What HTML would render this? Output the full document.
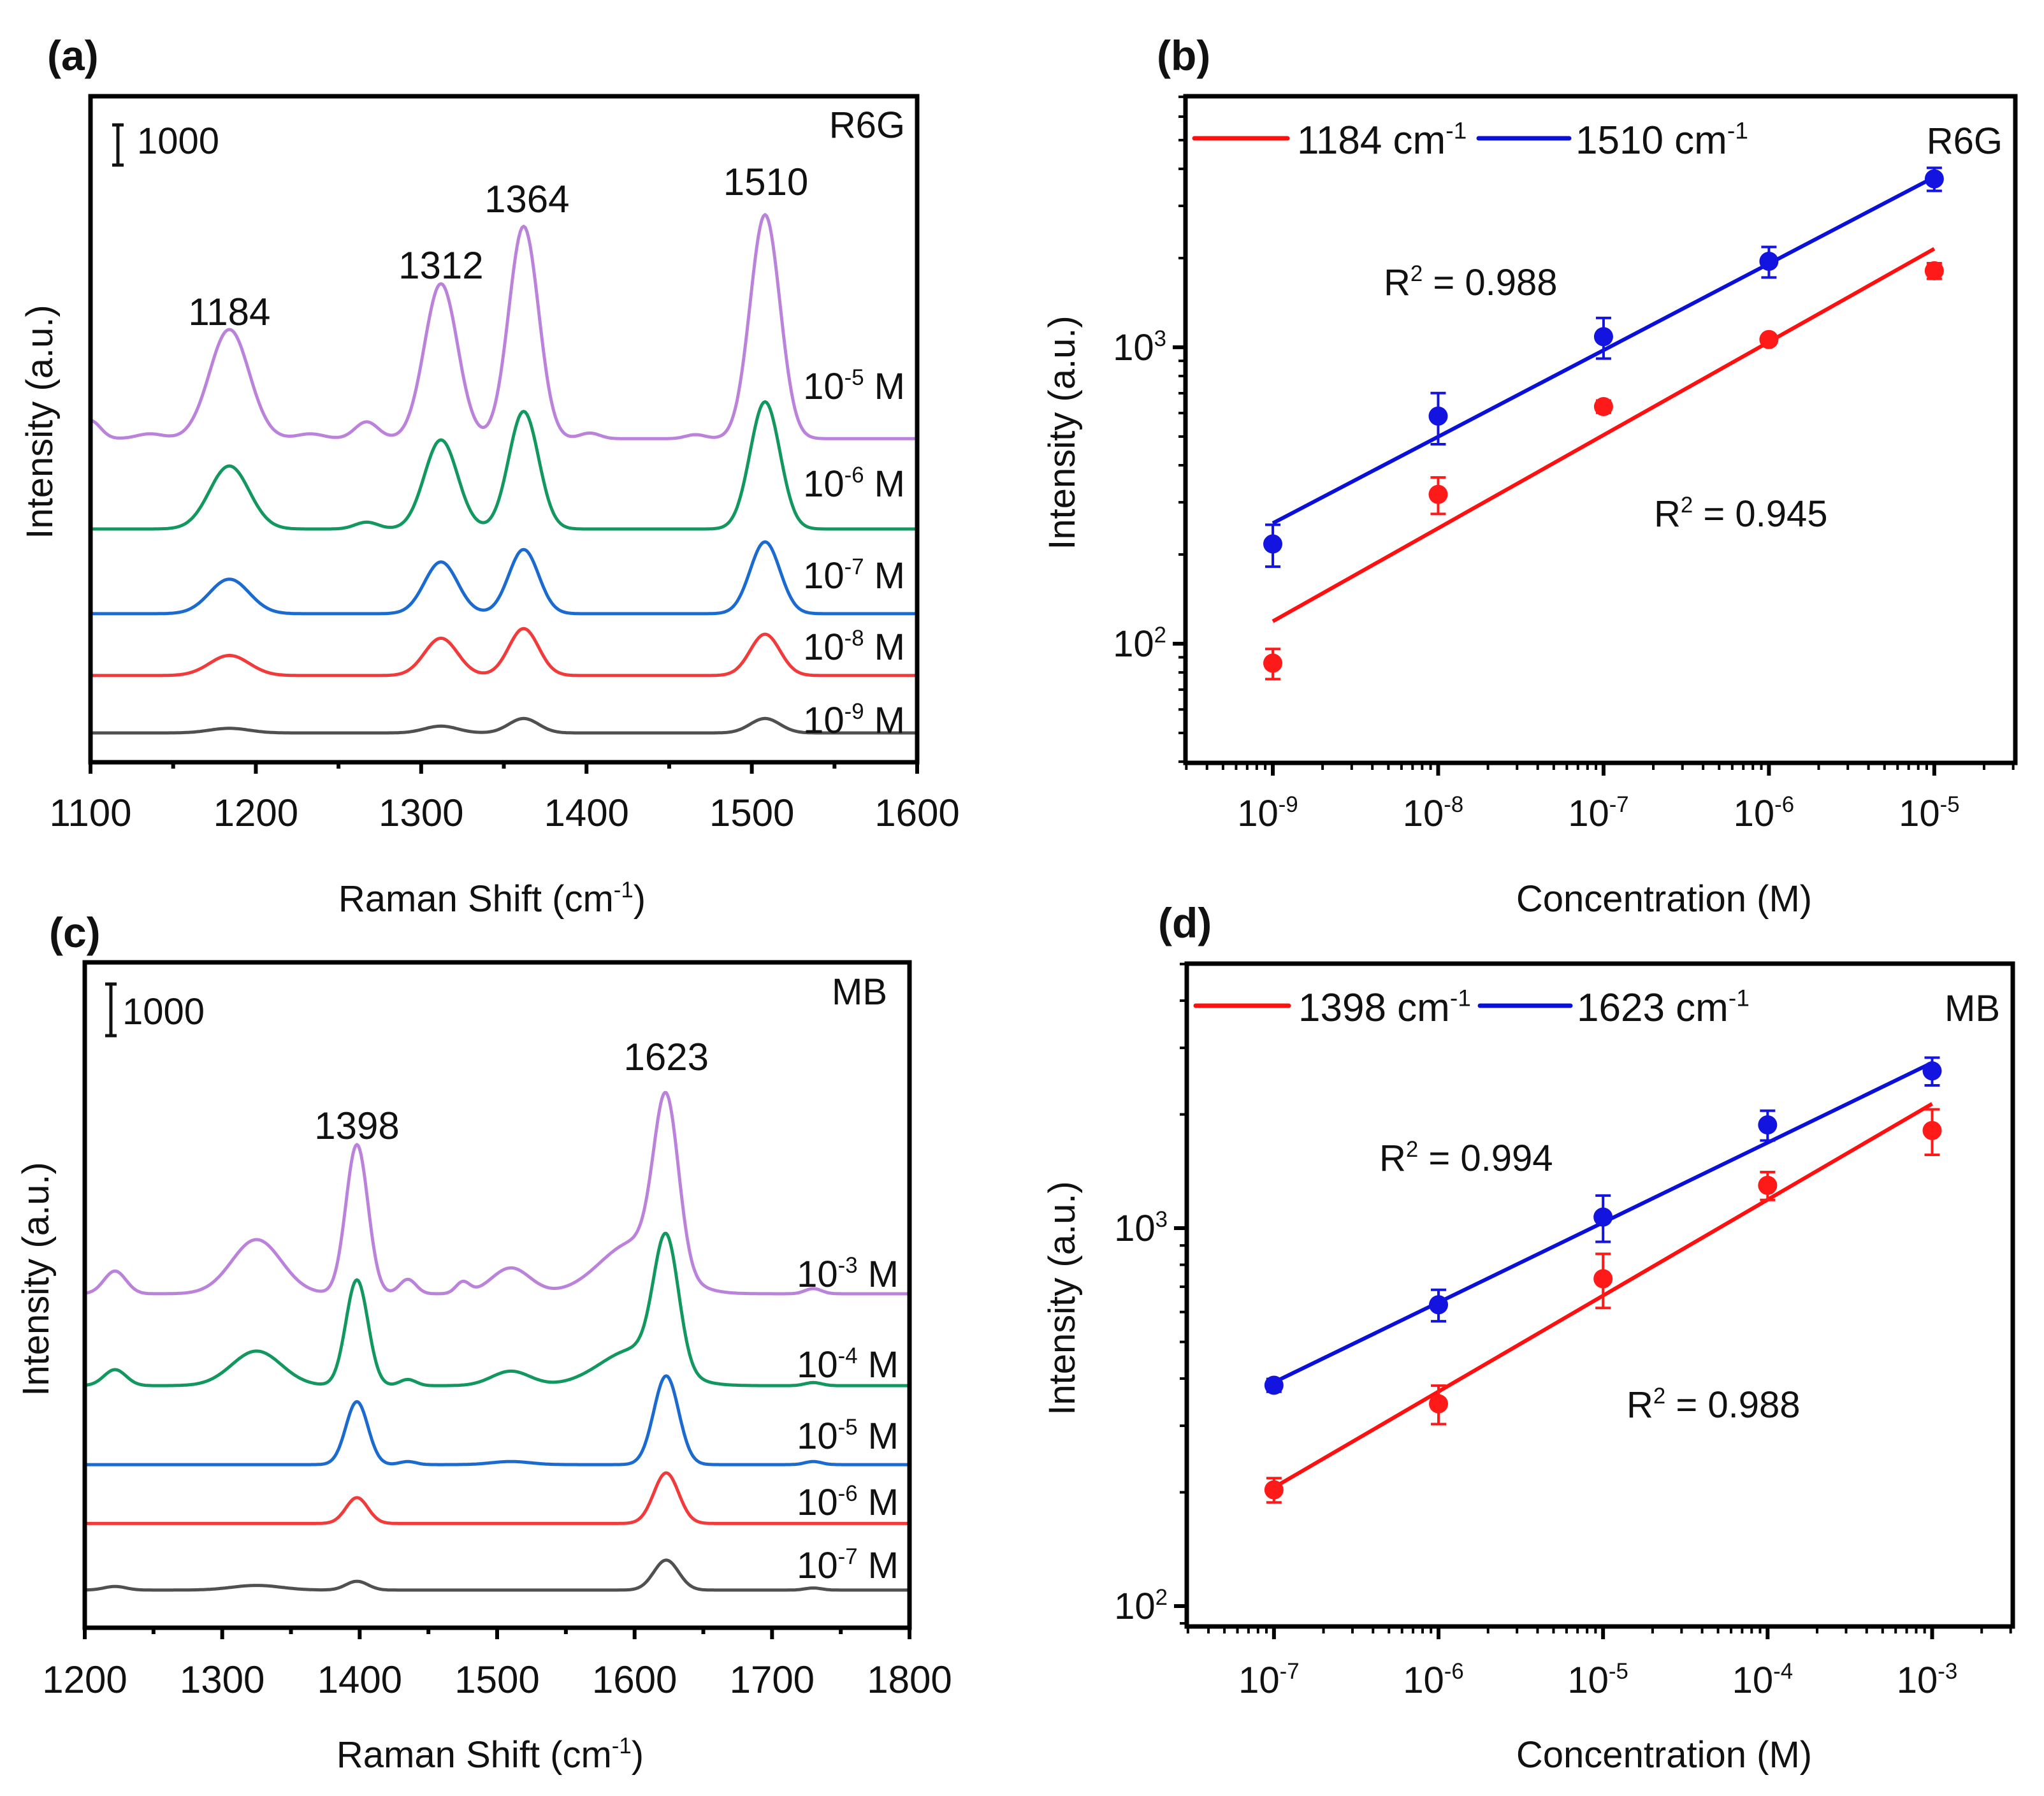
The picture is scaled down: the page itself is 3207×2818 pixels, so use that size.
<!DOCTYPE html>
<html><head><meta charset="utf-8"><style>
html,body{margin:0;padding:0;background:#fff}
svg{display:block;font-family:"Liberation Sans",Arial,sans-serif}
</style></head><body>
<svg id="fig" width="3207" height="2818" viewBox="0 0 3207 2818" xmlns="http://www.w3.org/2000/svg"></svg>
<script>
// ---------- Panel (a) data : R6G spectra ----------
const aPeakCenters = [1100, 1136, 1184, 1233, 1267, 1312, 1362, 1402, 1466, 1508];
const aPeakWidths  = [6, 8, 12, 8, 7, 10, 9, 6, 6, 9];
const aLabels = ["-9", "-8", "-7", "-6", "-5"];
const aBaselines = [730, 2160, 3700, 5810, 8060];
const aHeights = [
  [0, 0, 115, 0, 0, 170, 360, 0, 0, 360],
  [0, 0, 500, 0, 0, 930, 1170, 0, 0, 1030],
  [0, 0, 860, 0, 0, 1290, 1600, 0, 0, 1790],
  [0, 0, 1570, 0, 170, 2220, 2930, 0, 0, 3170],
  [450, 120, 2720, 120, 420, 3860, 5290, 140, 100, 5580]
];
const aPeakTicks = [1184, 1312, 1364, 1510];
// ---------- Panel (b) data ----------
const bConc = [-9, -8, -7, -6, -5];
const bRed = [86, 319, 631, 1062, 1812];
const bRedErr = [10, 45, 30, 30, 110];
const bBlue = [217, 586, 1086, 1950, 3700];
const bBlueErr = [35, 115, 170, 230, 330];
const bRedFit = [119, 2150];
const bBlueFit = [255, 3750];
// ---------- Panel (c) data : MB spectra ----------
const cPeakCenters = [1222, 1325, 1398, 1435, 1475, 1510, 1600, 1623, 1730];
const cPeakWidths  = [8, 18, 8, 6, 5, 14, 25, 9, 6];
const cLabels = ["-7", "-6", "-5", "-4", "-3"];
const cBaselines = [730, 2020, 3160, 4690, 6470];
const cHeights = [
  [70, 90, 170, 0, 0, 0, 0, 580, 40],
  [0, 0, 500, 0, 0, 0, 0, 980, 0],
  [0, 0, 1220, 60, 0, 60, 0, 1720, 60],
  [310, 670, 2050, 120, 0, 280, 700, 2490, 60],
  [440, 1050, 2890, 280, 220, 500, 1000, 3240, 100]
];
// ---------- Panel (d) data ----------
const dConc = [-7, -6, -5, -4, -3];
const dRed = [203, 343, 735, 1298, 1813];
const dRedErr = [15, 40, 120, 110, 250];
const dBlue = [384, 627, 1070, 1876, 2607];
const dBlueErr = [15, 60, 150, 170, 220];
const dRedFit = [206, 2134];
const dBlueFit = [391, 2740];

const NS = "http://www.w3.org/2000/svg";
const svg = document.getElementById('fig');
function el(tag, attrs, parent){
  const e = document.createElementNS(NS, tag);
  for (const k in attrs) e.setAttribute(k, attrs[k]);
  (parent || svg).appendChild(e);
  return e;
}
function txt(x, y, s, size, anchor, parent, weight){
  const t = el('text', {x:x, y:y, 'font-size':size, 'text-anchor':anchor||'start', fill:'#111', 'font-weight':weight||'normal'}, parent);
  t.textContent = s;
  return t;
}
function supTxt(x, y, base, sup, after, size, anchor, parent){
  const t = el('text', {x:x, y:y, 'font-size':size, 'text-anchor':anchor||'start', fill:'#111'}, parent);
  const a = document.createElementNS(NS,'tspan'); a.textContent = base; t.appendChild(a);
  const b = document.createElementNS(NS,'tspan'); b.setAttribute('dy', -size*0.38); b.setAttribute('font-size', size*0.6); b.textContent = sup; t.appendChild(b);
  if (after){ const c = document.createElementNS(NS,'tspan'); c.setAttribute('dy', size*0.38); c.textContent = after; t.appendChild(c); }
  return t;
}
const specColors = ['#505050', '#f23a3a', '#1a6ad0', '#12985f', '#bb82dc'];

function spectrumPanel(opt){
  const g = el('g', {});
  
  
  const X = v => opt.x0 + (v - opt.xmin) / (opt.xmax - opt.xmin) * (opt.x1 - opt.x0);
  const Y = v => opt.y1 - v / opt.ymax * (opt.y1 - opt.y0);
  for (let s = 0; s < opt.heights.length; s++){
    let d = '';
    for (let x = opt.xmin; x <= opt.xmax; x += 1){
      let v = opt.baselines[s];
      for (let p = 0; p < opt.centers.length; p++){
        const h = opt.heights[s][p];
        if (h) v += h * Math.exp(-Math.pow(x - opt.centers[p], 2) / (2 * opt.widths[p] * opt.widths[p]));
      }
      d += (x === opt.xmin ? 'M' : 'L') + X(x).toFixed(1) + ',' + Y(v).toFixed(1);
    }
    const p = el('path', {d:d, fill:'none', stroke:specColors[s], 'stroke-width':5, 'stroke-linejoin':'round'}, g);
    
    
  }
  // box
  const r = el('rect', {x:opt.x0, y:opt.y0, width:opt.x1-opt.x0, height:opt.y1-opt.y0, fill:'none', stroke:'#000', 'stroke-width':7}, g);
  
  
  // ticks
  for (let v = opt.xmin; v <= opt.xmax; v += 50){
    const major = (v % 100 === 0);
    el('line', {x1:X(v), x2:X(v), y1:opt.y1, y2:opt.y1 + (major?18:10), stroke:'#000', 'stroke-width':6}, g);
    if (major){
      const t = txt(X(v), opt.tickY, String(v), 60, 'middle', g);
      
      
    }
  }
  return {g, X, Y};
}

// ===== Panel (a) =====
(function(){
  const P = spectrumPanel({name:'panel-a', x0:142, x1:1439, y0:151, y1:1196, xmin:1100, xmax:1600, ymax:16590,
    centers:aPeakCenters, widths:aPeakWidths, heights:aHeights, baselines:aBaselines, labels:aLabels, tickY:1296});
  const g = P.g;
  const lab = txt(74, 110, '(a)', 66, 'start', g, 'bold');
  
  
  const xt = supTxt(772, 1430, 'Raman Shift (cm', '-1', ')', 58, 'middle', g);
  
  
  const yt = txt(0, 0, 'Intensity (a.u.)', 58, 'middle', g);
  yt.setAttribute('transform', 'translate(82,662) rotate(-90)');
  
  
  txt(1420, 216, 'R6G', 58, 'end', g);
  el('path', {d:'M176,196 H194 M185,196 V259 M176,259 H194', stroke:'#111', 'stroke-width':5, fill:'none'}, g);
  txt(215, 241, '1000', 58, 'start', g);
  const peakLabelY = [510, 437, 333, 306];
  for (let i = 0; i < aPeakTicks.length; i++){
    const t = txt(P.X(aPeakTicks[i]) - (i===3?4:0), peakLabelY[i], String(aPeakTicks[i]), 60, 'middle', g);
    
    
  }
  const cy = [1150, 1035, 923, 779, 626];
  for (let i = 0; i < aLabels.length; i++){
    const t = supTxt(1420, cy[i], '10', aLabels[i], ' M', 58, 'end', g);
    
    
  }
})();

// ===== Panel (c) =====
(function(){
  const P = spectrumPanel({name:'panel-c', x0:133, x1:1427, y0:1510, y1:2554, xmin:1200, xmax:1800, ymax:12890,
    centers:cPeakCenters, widths:cPeakWidths, heights:cHeights, baselines:cBaselines, labels:cLabels, tickY:2656});
  const g = P.g;
  const lab = txt(77, 1486, '(c)', 66, 'start', g, 'bold');
  
  
  const xt = supTxt(769, 2773, 'Raman Shift (cm', '-1', ')', 58, 'middle', g);
  
  
  const yt = txt(0, 0, 'Intensity (a.u.)', 58, 'middle', g);
  yt.setAttribute('transform', 'translate(76,2007) rotate(-90)');
  
  
  txt(1392, 1576, 'MB', 58, 'end', g);
  el('path', {d:'M165,1544 H183 M174,1544 V1625 M165,1625 H183', stroke:'#111', 'stroke-width':5, fill:'none'}, g);
  txt(192, 1607, '1000', 58, 'start', g);
  txt(P.X(1398), 1787, '1398', 60, 'middle', g);
  txt(P.X(1623), 1679, '1623', 60, 'middle', g);
  const cy = [2476, 2377, 2273, 2161, 2019];
  for (let i = 0; i < cLabels.length; i++){
    const t = supTxt(1410, cy[i], '10', cLabels[i], ' M', 58, 'end', g);
    
    
  }
})();

// ===== Log panels =====
function logPanel(o){
  const g = el('g', {});
  
  
  const X = lv => o.x0 + (lv - o.xmin) / (o.xmax - o.xmin) * (o.x1 - o.x0);
  const Y = v => o.y1 - (Math.log10(v) - o.ymin) / (o.ymax - o.ymin) * (o.y1 - o.y0);
  // x ticks
  for (let d = Math.floor(o.xmin); d <= Math.ceil(o.xmax); d++){
    for (let m = 1; m <= 9; m++){
      const lv = d + Math.log10(m);
      if (lv < o.xmin || lv > o.xmax) continue;
      el('line', {x1:X(lv), x2:X(lv), y1:o.y1, y2:o.y1 + (m===1?20:11), stroke:'#000', 'stroke-width':(m===1?6:4)}, g);
    }
  }
  for (let i = 0; i < o.conc.length; i++){
    const t = supTxt(X(o.conc[i]) - 8, o.tickY, '10', String(o.conc[i]), '', 58, 'middle', g);
    
    
  }
  for (let d = Math.floor(o.ymin); d <= Math.ceil(o.ymax); d++){
    for (let m = 1; m <= 9; m++){
      const lv = d + Math.log10(m);
      if (lv < o.ymin || lv > o.ymax) continue;
      const yy = Y(Math.pow(10, lv));
      el('line', {x1:o.x0, x2:o.x0 - (m===1?20:11), y1:yy, y2:yy, stroke:'#000', 'stroke-width':(m===1?6:4)}, g);
      if (m === 1){
        const t = supTxt(o.x0 - 30, yy + 20, '10', String(d), '', 58, 'end', g);
        
        
      }
    }
  }
  // fits
  const fits = [[o.redFit, '#ff1010'], [o.blueFit, '#0a10d8']];
  fits.forEach(([f, c], k) => {
    const l = el('line', {x1:X(o.conc[0]), y1:Y(f[0]), x2:X(o.conc[o.conc.length-1]), y2:Y(f[1]), stroke:c, 'stroke-width':6}, g);
    
    
  });
  const series = [[o.red, o.redErr, '#ff1a1a', 'red'], [o.blue, o.blueErr, '#1414e0', 'blue']];
  series.forEach(([vals, errs, c, nm]) => {
    for (let i = 0; i < vals.length; i++){
      const x = X(o.conc[i]);
      const e = el('path', {d:`M${x},${Y(vals[i]+errs[i])} V${Y(Math.max(1,vals[i]-errs[i]))} M${x-12},${Y(vals[i]+errs[i])} H${x+12} M${x-12},${Y(Math.max(1,vals[i]-errs[i]))} H${x+12}`, stroke:c, 'stroke-width':4, fill:'none'}, g);
      
      
      const p = el('circle', {cx:x, cy:Y(vals[i]), r:15, fill:c}, g);
      
      
    }
  });
  const r = el('rect', {x:o.x0, y:o.y0, width:o.x1-o.x0, height:o.y1-o.y0, fill:'none', stroke:'#000', 'stroke-width':7}, g);
  
  
  // legend
  const ly = o.y0 + 66;
  el('line', {x1:o.x0+14, x2:o.x0+160, y1:ly, y2:ly, stroke:'#ff1010', 'stroke-width':7, 'stroke-linecap':'round'}, g);
  supTxt(o.x0+175, ly+24, o.legRed, '-1', '', 62, 'start', g);
  el('line', {x1:o.x0+460, x2:o.x0+602, y1:ly, y2:ly, stroke:'#0a10d8', 'stroke-width':7, 'stroke-linecap':'round'}, g);
  supTxt(o.x0+612, ly+24, o.legBlue, '-1', '', 62, 'start', g);
  txt(o.x1-20, ly+24, o.analyte, 58, 'end', g);
  supTxt(o.r1[0], o.r1[1], 'R', '2', ' = ' + o.r1[2], 58, 'start', g);
  supTxt(o.r2[0], o.r2[1], 'R', '2', ' = ' + o.r2[2], 58, 'start', g);
  const lab = txt(o.x0 - 45, o.y0 - 41, o.label, 66, 'start', g, 'bold');
  
  
  const xt = txt(2611, o.titleY, 'Concentration (M)', 58, 'middle', g);
  
  
  const yt = txt(0, 0, 'Intensity (a.u.)', 58, 'middle', g);
  yt.setAttribute('transform', `translate(1686,${(o.y0+o.y1)/2 + 5}) rotate(-90)`);
  
  
}
logPanel({name:'panel-b', label:'(b)', x0:1860, x1:3162, y0:151, y1:1197, xmin:-9.528, xmax:-4.51, ymin:1.598, ymax:3.847,
  conc:bConc, red:bRed, redErr:bRedErr, blue:bBlue, blueErr:bBlueErr, redFit:bRedFit, blueFit:bBlueFit,
  legRed:'1184 cm', legBlue:'1510 cm', analyte:'R6G', r1:[2171,463,'0.988'], r2:[2595,826,'0.945'], tickY:1296, titleY:1430});
logPanel({name:'panel-d', label:'(d)', x0:1862, x1:3158, y0:1512, y1:2552, xmin:-7.53, xmax:-2.51, ymin:1.946, ymax:3.70,
  conc:dConc, red:dRed, redErr:dRedErr, blue:dBlue, blueErr:dBlueErr, redFit:dRedFit, blueFit:dBlueFit,
  legRed:'1398 cm', legBlue:'1623 cm', analyte:'MB', r1:[2164,1837,'0.994'], r2:[2552,2224,'0.988'], tickY:2656, titleY:2773});
</script>
</body></html>
